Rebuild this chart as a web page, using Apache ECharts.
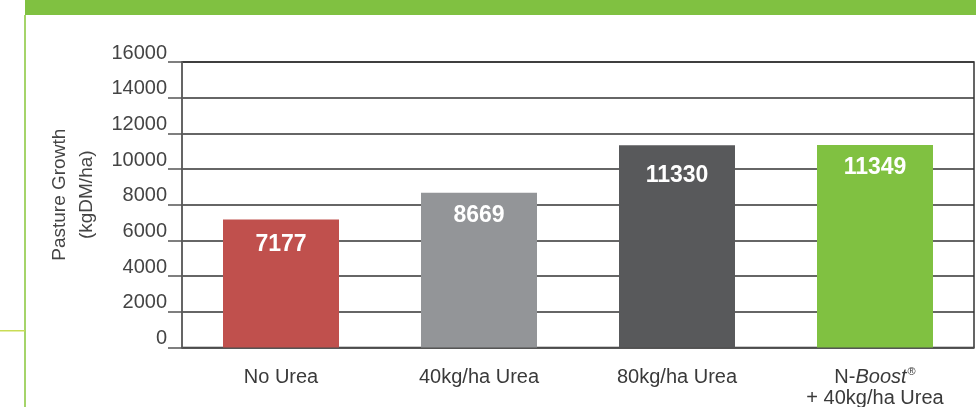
<!DOCTYPE html>
<html><head><meta charset="utf-8">
<script src="https://cdn.jsdelivr.net/npm/echarts@6/dist/echarts.min.js"></script>
<style>html,body{margin:0;padding:0;background:#fff}#c{width:976px;height:407px}</style>
</head><body><div id="c"></div>
<script>
const categories = ['No Urea', '40kg/ha Urea', '80kg/ha Urea', 'N-Boost'];
const values = [7177, 8669, 11330, 11349];
const barColors = ['#c0504d', '#939598', '#58595b', '#80c141'];
const yTicks = [0, 2000, 4000, 6000, 8000, 10000, 12000, 14000, 16000];
const yName = 'Pasture Growth\n(kgDM/ha)';
const labelGaps = [14, 11.5, 18.5, 11.5];

const chart = echarts.init(document.getElementById('c'));
const FONT = '"Liberation Sans", Arial, sans-serif';
chart.setOption({
  animation: false,
  textStyle: { fontFamily: FONT },
  graphic: [
    { type: 'rect', shape: { x: 25, y: 0, width: 951, height: 15 }, style: { fill: '#80c141' }, silent: true },
    { type: 'rect', shape: { x: 24, y: 15, width: 2, height: 392 }, style: { fill: '#a5d46a' }, silent: true },
    { type: 'rect', shape: { x: 0, y: 330, width: 25, height: 1.5 }, style: { fill: '#c9dc55' }, silent: true }
  ],
  grid: { left: 182, right: 2, top: 62, bottom: 59.5, outerBoundsMode: 'none', containLabel: false,
    show: true, borderColor: '#333', borderWidth: 1.5, backgroundColor: 'transparent' },
  xAxis: {
    type: 'category',
    data: categories,
    axisLine: { show: true, lineStyle: { color: '#555', width: 1.5 } },
    axisTick: { show: false },
    axisLabel: {
      interval: 0, hideOverlap: false,
      margin: 19, color: '#3a3a3a', fontSize: 20, lineHeight: 21,
      formatter: function (v) {
        if (v === 'N-Boost') return '{n|N-}{i|Boost}{s|®}\n{n|+ 40kg/ha Urea}';
        return v;
      },
      rich: {
        n: { fontSize: 20, color: '#3a3a3a', lineHeight: 21 },
        i: { fontSize: 20, color: '#3a3a3a', fontStyle: 'italic', lineHeight: 21 },
        s: { fontSize: 11, color: '#3a3a3a', verticalAlign: 'top', lineHeight: 21, padding: [0, 0, 8, 1] }
      }
    }
  },
  yAxis: {
    type: 'value', min: 0, max: 16000, interval: 2000,
    name: yName, nameLocation: 'middle', nameGap: 81, nameRotate: 90,
    nameTextStyle: { fontSize: 19, color: '#444', lineHeight: 27, align: 'center', padding: [0, 0, 0, 20] },
    axisLine: { show: true, lineStyle: { color: '#666', width: 1.5 } },
    axisTick: { show: true, length: 14, lineStyle: { color: '#555', width: 1.5 } },
    axisLabel: {
      margin: 15, fontSize: 20, color: '#444', verticalAlign: 'bottom', padding: [0, 0, -1, 0],
      formatter: function (v) { return yTicks.indexOf(v) >= 0 ? String(v) : ''; }
    },
    splitLine: { show: true, lineStyle: { color: '#333', width: 1.5 } }
  },
  series: [{
    type: 'bar',
    barWidth: 116,
    data: values.map((v, i) => ({ value: v, itemStyle: { color: barColors[i] }, label: { distance: labelGaps[i] } })),
    label: {
      show: true, position: 'insideTop', distance: 12,
      color: '#fff', fontWeight: 'bold', fontSize: 23
    }
  }]
});
</script></body></html>
